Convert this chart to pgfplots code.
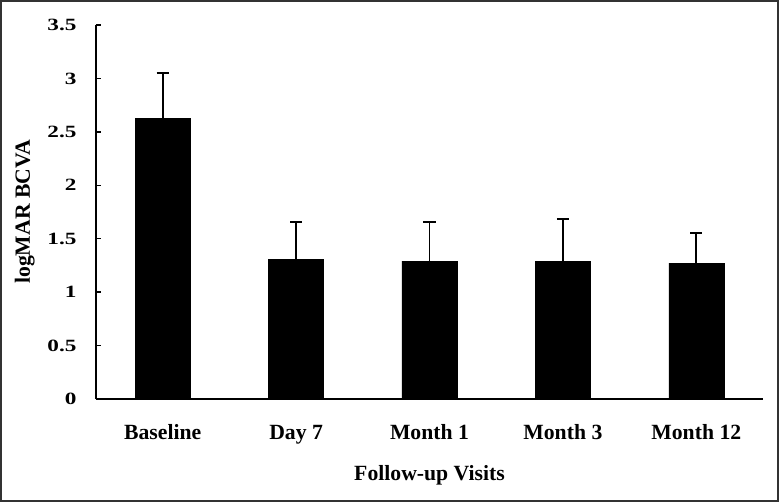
\documentclass[border=0pt]{standalone}
\usepackage{fontspec}
\setmainfont{Liberation Serif}
\newfontfamily\tickfont{Liberation Serif}[FakeStretch=1.35]
\usepackage{pgfplots}
\pgfplotsset{compat=1.18}
\begin{document}
\begin{tikzpicture}
\useasboundingbox (-96bp,-103bp) rectangle (683bp,399bp);
\begin{axis}[
  at={(0,0)}, anchor=south west,
  scale only axis,
  width=667bp, height=374bp,
  xmin=-0.5, xmax=4.5,
  ymin=0, ymax=3.5,
  axis x line*=bottom, axis y line*=left,
  axis line style={line width=1.6bp, black},
  ytick={0,0.5,...,3.5},
  yticklabels={0,0.5,1,1.5,2,2.5,3,3.5},
  xtick={0,1,2,3,4},
  xticklabels={Baseline,Day 7,Month 1,Month 3,Month 12},
  extra x ticks={0.5,1.5,2.5,3.5,4.5},
  extra x tick labels={},
  extra x tick style={major tick length=6bp, tick style={line width=1.5bp,black}},
  major x tick style={draw=none},
  tick align=inside,
  major tick length=5bp,
  tick style={line width=1.5bp, black},
  /pgf/number format/assume math mode=true,
  yticklabel style={font=\tickfont\fontsize{17.2bp}{18bp}\selectfont\bfseries, xshift=-16bp},
  xticklabel style={font=\fontsize{21.7bp}{24bp}\selectfont\bfseries, text height=15bp, text depth=4bp, yshift=-17bp},
  xlabel={Follow-up Visits},
  ylabel={logMAR BCVA},
  ylabel shift=6bp,
  xlabel style={font=\fontsize{21.7bp}{24bp}\selectfont\bfseries, yshift=-4bp},
  ylabel style={font=\fontsize{21.7bp}{24bp}\selectfont\bfseries},
  ybar, bar width=55bp,
  clip=false,
]
\addplot[fill=black, draw=black,
  error bars/.cd, y dir=plus, y explicit,
  error bar style={line width=1.8bp, black},
  error mark options={rotate=90, mark size=6bp, line width=1.8bp, black}]
  coordinates {
  (0,2.626) +- (0,0.424)
  (1,1.307) +- (0,0.352)
  (2,1.291) +- (0,0.368)
  (3,1.291) +- (0,0.390)
  (4,1.272) +- (0,0.284)
};
\end{axis}
\draw[line width=2bp, black!80] (-95bp,-102bp) rectangle (682bp,398bp);
\end{tikzpicture}
\end{document}
